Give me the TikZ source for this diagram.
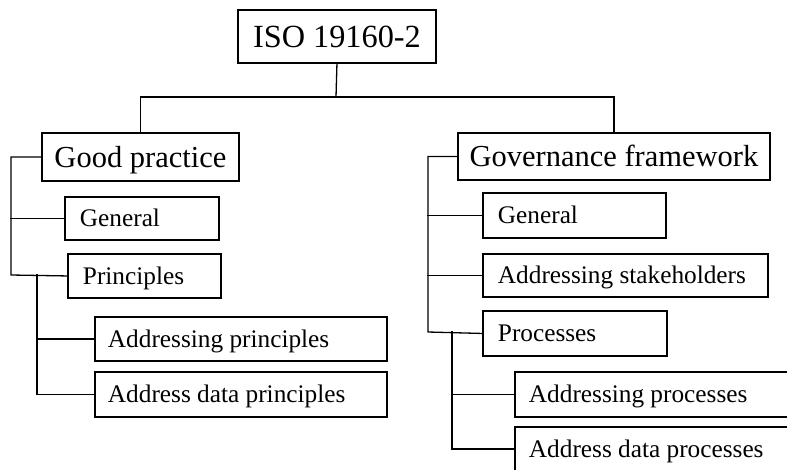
\documentclass[tikz,border=0pt]{standalone}
\usepackage{fontspec}
\setmainfont{Liberation Serif}
\newcommand{\lbox}[3]{\makebox[#1][l]{\hspace*{#2}#3}}
\begin{document}
\begin{tikzpicture}[x=1pt,y=-1pt,
  bx/.style={draw=black,line width=1.9pt,rectangle,anchor=north west,inner sep=0pt,text depth=0pt},
  big/.style={bx,font=\fontsize{30.5}{36}\selectfont,text height=20.2pt},
  small/.style={bx,font=\fontsize{25.3}{30}\selectfont,text height=16.8pt},
  conn/.style={draw=black,line width=1.3pt,line cap=rect}]
\useasboundingbox (0,0) rectangle (787,469);
\clip (0,0) rectangle (787,469);
% top
\node[bx,font=\fontsize{32.3}{38}\selectfont,text height=21.4pt,minimum width=198pt,minimum height=53pt] (iso) at (237,9) {ISO 19160-2};
% left branch
\node[big,minimum width=197pt,minimum height=48pt] (gp) at (41,132) {Good practice};
\node[small,minimum height=43pt] (gen1) at (64,196) {\lbox{154pt}{15pt}{General}};
\node[small,minimum height=44pt] (pri) at (67,253) {\lbox{153pt}{15pt}{Principles}};
\node[small,minimum height=44pt] (ap) at (94,316) {\lbox{292pt}{13pt}{Addressing principles}};
\node[small,minimum height=45pt] (adp) at (94,371) {\lbox{292pt}{13pt}{Address data principles}};
% right branch
\node[big,minimum width=312pt,minimum height=47pt] (gf) at (457,132) {Governance framework};
\node[small,minimum height=45pt] (gen2) at (482,192) {\lbox{183pt}{15pt}{General}};
\node[small,minimum height=43pt] (as) at (482,253) {\lbox{285pt}{15pt}{Addressing stakeholders}};
\node[small,minimum height=45pt] (proc) at (482,310) {\lbox{184pt}{15pt}{Processes}};
\node[small,minimum height=45pt] (apr) at (514,371) {\lbox{290pt}{14pt}{Addressing processes}};
\node[small,minimum height=44pt] (adpr) at (514,426) {\lbox{290pt}{14pt}{Address data processes}};
% connectors
\coordinate (j) at (336,97);
\coordinate (tl) at (11,275);
\coordinate (s1) at (37,275);
\coordinate (tr) at (428,332);
\coordinate (s2) at (452,332);
\draw[conn] (iso.south) -- (j);
\draw[conn] (gp.north) |- (j) -| (gf.north);
\draw[conn] (gp.west) -| (tl) -- (pri.west);
\draw[conn] (gen1.west) -- (gen1.west -| tl);
\draw[conn] (s1) |- (adp.west);
\draw[conn] (ap.west) -- (ap.west -| s1);
\draw[conn] (gf.west) -| (tr) -- (proc.west);
\draw[conn] (gen2.west) -- (gen2.west -| tr);
\draw[conn] (as.west) -- (as.west -| tr);
\draw[conn] (s2) |- (adpr.west);
\draw[conn] (apr.west) -- (apr.west -| s2);
\end{tikzpicture}
\end{document}
